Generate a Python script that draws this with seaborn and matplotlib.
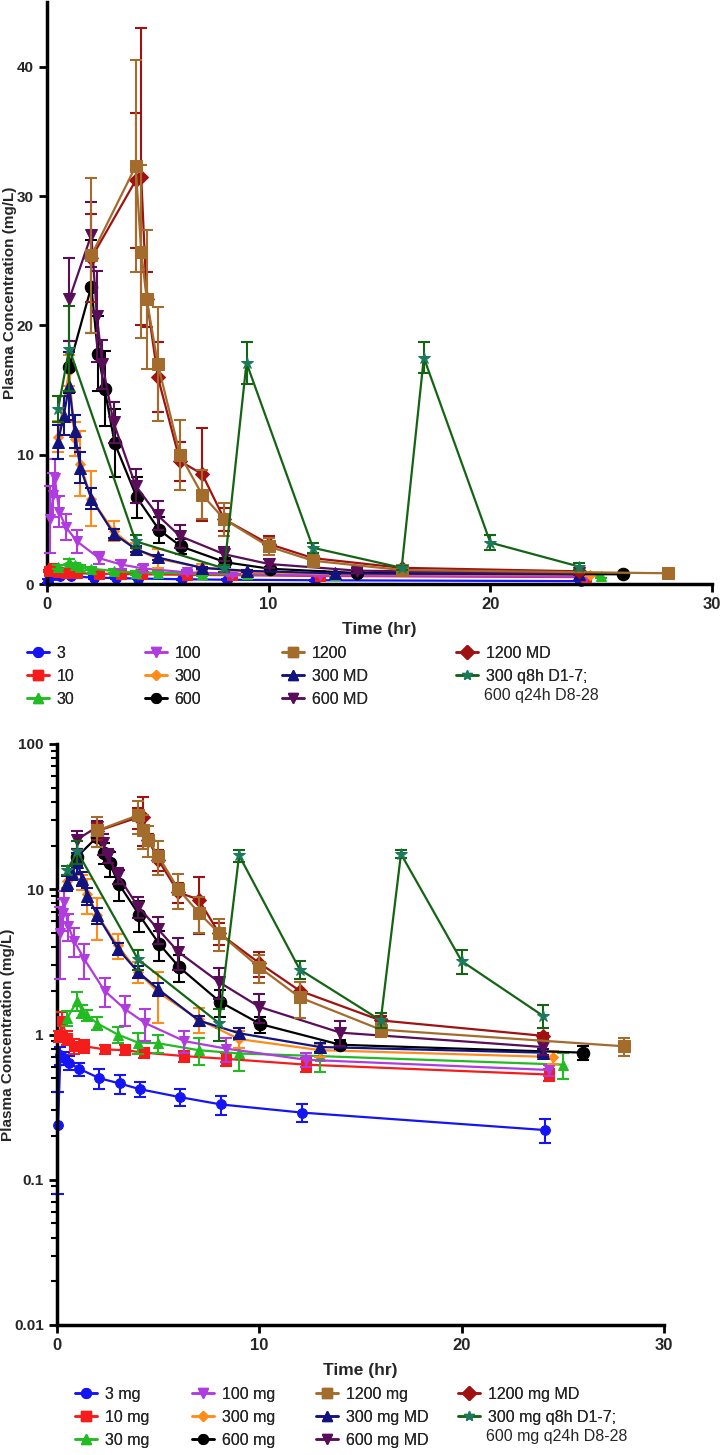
import matplotlib
matplotlib.use("Agg")
import numpy as np
import pandas as pd
import matplotlib.pyplot as plt
import seaborn as sns
from matplotlib import font_manager
from matplotlib.lines import Line2D
from matplotlib.ticker import LogLocator, NullFormatter, FixedLocator, FixedFormatter

# ---- data (time in hr, mean and SD in mg/L) ----
time_3 = [0.05, 0.17, 0.35, 0.6, 1.1, 2.1, 3.1, 4.1, 6.1, 8.1, 12.1, 24.1]
conc_3 = [0.24, 0.72, 0.69, 0.64, 0.58, 0.50, 0.46, 0.42, 0.37, 0.33, 0.29, 0.22]
sd_3 = [0.16, 0.10, 0.07, 0.07, 0.06, 0.08, 0.07, 0.05, 0.05, 0.05, 0.04, 0.04]

time_10 = [0.1, 0.25, 0.5, 0.85, 1.35, 2.35, 3.35, 4.3, 6.3, 8.35, 12.3, 24.3]
conc_10 = [0.97, 1.23, 0.95, 0.83, 0.83, 0.79, 0.78, 0.75, 0.71, 0.68, 0.62, 0.53]
sd_10 = [0.08, 0.20, 0.10, 0.10, 0.08, 0.06, 0.06, 0.06, 0.06, 0.07, 0.07, 0.05]

time_30 = [0.5, 1.0, 1.25, 1.5, 2.0, 3.0, 4.0, 5.0, 7.0, 9.0, 13.0, 25.0]
conc_30 = [1.3, 1.7, 1.45, 1.35, 1.19, 1.0, 0.88, 0.87, 0.78, 0.74, 0.71, 0.62]
sd_30 = [0.15, 0.25, 0.15, 0.12, 0.12, 0.13, 0.15, 0.13, 0.16, 0.18, 0.16, 0.13]

time_100 = [0.15, 0.28, 0.35, 0.55, 0.85, 1.35, 2.35, 3.35, 4.35, 6.3, 8.35, 12.3, 24.3]
conc_100 = [5.0, 6.9, 8.2, 5.6, 4.4, 3.3, 2.0, 1.5, 1.2, 0.9, 0.8, 0.67, 0.57]
sd_100 = [2.6, 1.7, 1.5, 1.2, 1.0, 0.9, 0.45, 0.35, 0.3, 0.15, 0.15, 0.07, 0.05]

time_300 = [0.5, 1.0, 1.25, 1.5, 2.0, 3.0, 4.0, 5.0, 7.0, 9.0, 13.0, 24.5]
conc_300 = [11.4, 16.5, 11.2, 9.3, 6.6, 4.1, 2.7, 1.95, 1.27, 0.93, 0.78, 0.70]
sd_300 = [1.2, 1.2, 1.3, 2.5, 2.1, 0.8, 0.45, 0.75, 0.25, 0.12, 0.08, 0.07]

time_600 = [1.0, 2.0, 2.3, 2.6, 3.05, 4.05, 5.05, 6.05, 8.05, 10.05, 14.0, 26.0]
conc_600 = [16.8, 23.0, 17.8, 15.1, 10.9, 6.7, 4.2, 2.9, 1.68, 1.18, 0.85, 0.75]
sd_600 = [2.0, 3.6, 2.9, 2.9, 2.6, 1.6, 1.0, 0.6, 0.35, 0.15, 0.06, 0.08]

time_1200 = [2.0, 4.0, 4.25, 4.5, 5.0, 6.0, 7.0, 8.0, 10.0, 12.0, 16.0, 28.0]
conc_1200 = [25.4, 32.3, 25.7, 22.0, 17.0, 10.0, 6.9, 5.0, 2.9, 1.8, 1.08, 0.83]
sd_1200 = [6.0, 8.2, 6.7, 5.4, 4.4, 2.7, 1.9, 1.25, 0.65, 0.5, 0.12, 0.12]

time_300md = [0.5, 0.75, 1.0, 1.25, 1.5, 2.0, 3.0, 4.0, 5.0, 7.0, 9.0, 13.0, 24.0]
conc_300md = [11.0, 13.0, 15.3, 11.8, 9.0, 6.6, 3.9, 2.7, 2.05, 1.25, 1.02, 0.82, 0.75]
sd_300md = [1.3, 1.5, 2.6, 1.3, 1.2, 0.8, 0.35, 0.25, 0.2, 0.1, 0.08, 0.06, 0.05]

time_600md = [1.0, 2.0, 2.25, 2.5, 3.0, 4.0, 5.0, 6.0, 8.0, 10.0, 14.0, 24.0]
conc_600md = [22.0, 27.0, 20.7, 17.0, 12.5, 7.6, 5.3, 3.7, 2.3, 1.55, 1.03, 0.82]
sd_600md = [3.2, 2.5, 3.5, 1.9, 1.6, 1.3, 1.1, 0.9, 0.55, 0.35, 0.2, 0.1]

time_1200md = [2.0, 4.0, 4.25, 4.5, 5.0, 6.0, 7.0, 8.0, 10.0, 12.0, 16.0, 24.0]
conc_1200md = [25.2, 31.2, 31.5, 22.0, 16.0, 9.5, 8.5, 5.0, 3.1, 2.0, 1.25, 0.98]
sd_1200md = [3.4, 5.2, 11.5, 2.1, 2.7, 1.5, 3.6, 0.9, 0.6, 0.3, 0.1, 0.05]

time_q8h = [0.5, 1.0, 4.0, 8.0, 9.0, 12.0, 16.0, 17.0, 20.0, 24.0]
conc_q8h = [13.5, 18.2, 3.3, 1.2, 17.1, 2.8, 1.25, 17.5, 3.2, 1.35]
sd_q8h = [1.0, 3.3, 0.5, 0.3, 1.6, 0.4, 0.15, 1.2, 0.6, 0.25]

labels_top = ["3", "10", "30", "100", "300", "600", "1200", "300 MD", "600 MD",
              "1200 MD", "300 q8h D1-7;"]
labels_bottom = ["3 mg", "10 mg", "30 mg", "100 mg", "300 mg", "600 mg", "1200 mg",
                 "300 mg MD", "600 mg MD", "1200 mg MD", "300 mg q8h D1-7;"]
label_extra_top = "600 q24h D8-28"
label_extra_bottom = "600 mg q24h D8-28"

# ---- styles ----
colors = ["#1414f5", "#f51c1c", "#22bb22", "#b03ce0", "#ff8c1a", "#000000",
          "#a36b2c", "#12137f", "#5a0e5a", "#a01212", "#146414"]
face_colors = colors[:10] + ["#1b7a5c"]
markers = ["o", "s", "^", "v", "D", "o", "s", "^", "v", "D", "*"]
marker_sizes = [7, 7, 7, 7, 5, 9, 9, 8, 8, 7, 9]
# stacking order: 1200 mg MD sits underneath 1200 mg
layer = [2, 3, 4, 5, 6, 7, 12, 8, 9, 11, 13]

series = [
    (time_3, conc_3, sd_3), (time_10, conc_10, sd_10), (time_30, conc_30, sd_30),
    (time_100, conc_100, sd_100), (time_300, conc_300, sd_300),
    (time_600, conc_600, sd_600), (time_1200, conc_1200, sd_1200),
    (time_300md, conc_300md, sd_300md), (time_600md, conc_600md, sd_600md),
    (time_1200md, conc_1200md, sd_1200md), (time_q8h, conc_q8h, sd_q8h),
]

W, H = 720, 1455
installed = {f.name for f in font_manager.fontManager.ttflist}
BOLD = ["Liberation Sans", "DejaVu Sans"]
if "Liberation Sans Narrow" in installed:
    NARROW = ["Liberation Sans Narrow", "DejaVu Sans"]
    LEGEND_SIZE = 12.5
else:
    NARROW = BOLD
    LEGEND_SIZE = 11.5

sns.set_theme(style="ticks")
plt.rcParams["font.family"] = BOLD


def fx(px):
    return px / W


def fy(py):
    return 1 - py / H


# Draw every series with its SD bars on one axes.
def draw_series(ax):
    for i, (t, c, sd) in enumerate(series):
        ax.errorbar(t, c, yerr=sd, fmt="none", ecolor=colors[i], elinewidth=1.5,
                    capsize=4, capthick=1.5, clip_on=False, zorder=layer[i])
        df = pd.DataFrame({"time": t, "conc": c})
        sns.lineplot(data=df, x="time", y="conc", ax=ax, color=colors[i],
                     marker=markers[i], markersize=marker_sizes[i],
                     markerfacecolor=face_colors[i], markeredgecolor=face_colors[i],
                     linewidth=1.6, clip_on=False, legend=False, zorder=layer[i])


# Shared axis styling.
def style_axes(ax):
    sns.despine(ax=ax)
    for side in ["left", "bottom"]:
        ax.spines[side].set_linewidth(2.5)
        ax.spines[side].set_color("black")
    ax.tick_params(axis="both", which="major", direction="out", length=6,
                   width=2, color="black", labelsize=11)
    ax.tick_params(axis="x", labelsize=12)
    ax.set_xlim(0, 30)
    ax.xaxis.set_major_locator(FixedLocator([0, 10, 20, 30]))
    ax.xaxis.set_major_formatter(FixedFormatter(["0", "10", "20", "30"]))
    for lbl in ax.get_xticklabels():
        lbl.set_fontweight("bold")
        lbl.set_family(NARROW)
    for lbl in ax.get_yticklabels():
        lbl.set_fontweight("bold")
    ax.set_xlabel("Time (hr)", fontsize=12.5, fontweight="bold", family=NARROW,
                  labelpad=7)
    ax.set_ylabel("Plasma Concentration (mg/L)", fontsize=11, fontweight="bold")


# Legend laid out as separate columns at fixed pixel positions.
def add_legend(fig, labels, extra, xs, y_top, extra_xy):
    handles = [Line2D([], [], color=colors[i], marker=markers[i],
                      markersize=min(marker_sizes[i], 7), markerfacecolor=face_colors[i],
                      markeredgecolor=face_colors[i], linewidth=1.8)
               for i in range(len(labels))]
    groups = [(0, 3), (3, 6), (6, 9), (9, 11)]
    for (a, b), x in zip(groups, xs):
        leg = fig.legend(handles[a:b], labels[a:b], loc="upper left",
                         bbox_to_anchor=(fx(x), fy(y_top)), frameon=False,
                         borderpad=0, borderaxespad=0, handlelength=1.4,
                         handletextpad=0.45, labelspacing=0.5,
                         prop={"family": NARROW, "size": LEGEND_SIZE})
        fig.add_artist(leg)
    fig.text(fx(extra_xy[0]), fy(extra_xy[1]), extra, family=NARROW,
             fontsize=LEGEND_SIZE, va="center", ha="left")


fig = plt.figure(figsize=(W / 100, H / 100), dpi=100)

ax1 = fig.add_axes([fx(47), fy(584), fx(712) - fx(47), (584 - 2) / H])
draw_series(ax1)
ax1.set_ylim(0, 45)
ax1.yaxis.set_major_locator(FixedLocator([0, 10, 20, 30, 40]))
ax1.yaxis.set_major_formatter(FixedFormatter(["0", "10", "20", "30", "40"]))
style_axes(ax1)
ax1.yaxis.set_label_coords(-0.045, 0.5)

ax2 = fig.add_axes([fx(57), fy(1325), fx(664) - fx(57), (1325 - 744) / H])
ax2.set_yscale("log")
draw_series(ax2)
ax2.set_ylim(0.01, 100)
ax2.yaxis.set_major_locator(FixedLocator([0.01, 0.1, 1, 10, 100]))
ax2.yaxis.set_major_formatter(FixedFormatter(["0.01", "0.1", "1", "10", "100"]))
ax2.yaxis.set_minor_locator(LogLocator(base=10, subs=np.arange(2, 10)))
ax2.yaxis.set_minor_formatter(NullFormatter())
ax2.tick_params(axis="y", which="minor", direction="out", length=4, width=1.5,
                color="black")
style_axes(ax2)
ax2.yaxis.set_label_coords(-0.069, 0.5)

add_legend(fig, labels_top, label_extra_top, [27, 145, 282, 456], 646, (484, 695))
add_legend(fig, labels_bottom, label_extra_bottom, [75, 192, 316, 458], 1387, (486, 1437))

fig.savefig("out.png", dpi=100)
